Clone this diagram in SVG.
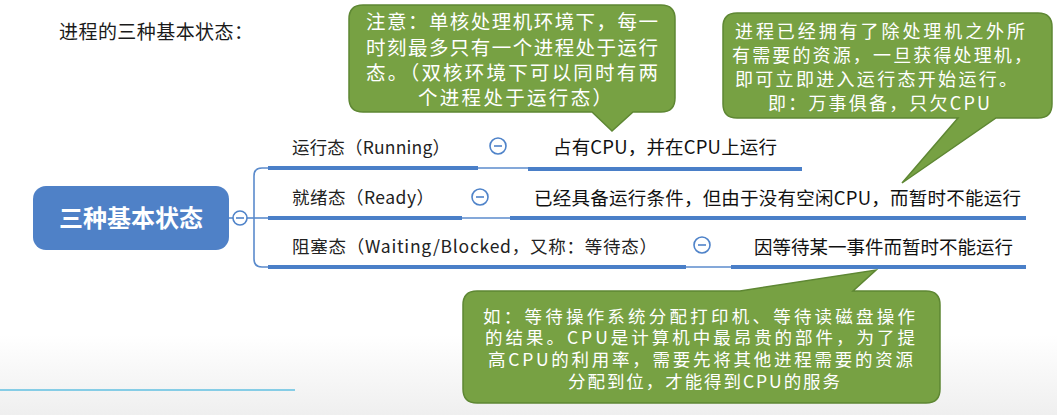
<svg xmlns="http://www.w3.org/2000/svg" width="1057" height="415" viewBox="0 0 1057 415">
<defs>
<linearGradient id="bg" x1="0" y1="0" x2="0" y2="1">
<stop offset="0" stop-color="#ffffff"/>
<stop offset="1" stop-color="#efefef"/>
</linearGradient>
<style>
.t{font-family:'Noto Sans CJK SC','Noto Sans',sans-serif;}
.title{font-family:'Liberation Serif','Noto Sans CJK SC',serif;font-size:19px;fill:#1a1a1a;}
.lab{font-size:17.5px;fill:#222;}
.det{font-size:18.5px;fill:#111;}
.call{fill:#77a143;stroke:#5e8733;stroke-width:1.5;}
.ct{font-size:19.5px;fill:#ffffff;}
.ct2{font-size:18px;fill:#ffffff;}
.ct3{font-size:17.5px;fill:#ffffff;}
.thick{stroke:#4a7fc8;stroke-width:4;fill:none;}
.thin{stroke:#5b8bcc;stroke-width:1.6;fill:none;}
.tog{fill:#fff;stroke:#4f83c9;stroke-width:1.6;}
.togm{stroke:#4f83c9;stroke-width:1.6;}
</style>
</defs>
<rect x="0" y="0" width="1057" height="415" fill="#ffffff"/>
<rect x="0" y="335" width="1057" height="80" fill="url(#bg)"/>
<line x1="0" y1="390" x2="295" y2="390" stroke="#86cde6" stroke-width="2"/>
<text class="t title" x="59" y="39" textLength="194">进程的三种基本状态：</text>

<g id="connectors">
<path class="thin" d="M229,218 H233"/>
<path class="thin" d="M247,218 H268"/>
<path class="thin" d="M268,168 H262 Q254,168 254,176 V259 Q254,267 262,267 H268"/>
<path class="thick" d="M268,168 H478"/>
<path class="thick" d="M268,218 H462"/>
<path class="thick" d="M268,267 H686"/>
<path class="thin" d="M478,168 H528"/>
<path class="thin" d="M462,218 H510"/>
<path class="thin" d="M686,267 H731"/>
<path class="thick" d="M528,169 H802"/>
<path class="thick" d="M510,218 H1026"/>
<path class="thick" d="M731,267 H1026"/>
</g>

<g id="root">
<rect x="33" y="186" width="196" height="64" rx="13" fill="#4f81c7"/>
<text class="t" x="131" y="227" text-anchor="middle" font-size="24" font-weight="bold" fill="#ffffff">三种基本状态</text>
<circle class="tog" cx="240" cy="218" r="7"/>
<line class="togm" x1="236" y1="218" x2="244" y2="218"/>
</g>

<g id="running">
<text class="t lab" x="292" y="154" textLength="158">运行态（Running）</text>
<circle class="tog" cx="498" cy="146" r="8"/>
<line class="togm" x1="494" y1="146" x2="502" y2="146"/>
</g>
<g id="running-detail">
<text class="t det" x="553" y="154" textLength="224">占有CPU，并在CPU上运行</text>
</g>

<g id="ready">
<text class="t lab" x="292" y="204" textLength="142">就绪态（Ready）</text>
<circle class="tog" cx="480" cy="197" r="8"/>
<line class="togm" x1="476" y1="197" x2="484" y2="197"/>
</g>
<g id="ready-detail">
<text class="t det" x="534" y="205" textLength="487">已经具备运行条件，但由于没有空闲CPU，而暂时不能运行</text>
</g>

<g id="blocked">
<text class="t lab" x="292" y="253" textLength="365">阻塞态（Waiting/Blocked，又称：等待态）</text>
<circle class="tog" cx="702" cy="245" r="8"/>
<line class="togm" x1="698" y1="245" x2="706" y2="245"/>
</g>
<g id="blocked-detail">
<text class="t det" x="754" y="254" textLength="259">因等待某一事件而暂时不能运行</text>
</g>

<g id="note-running">
<path class="call" d="M363,5 H661 Q675,5 675,19 V98 Q675,112 661,112 H633 L612,131 L592,112 H363 Q349,112 349,98 V19 Q349,5 363,5 Z"/>
<text class="t ct" x="366" y="29" textLength="292">注意：单核处理机环境下，每一</text>
<text class="t ct" x="366" y="55" textLength="292">时刻最多只有一个进程处于运行</text>
<text class="t ct" x="366" y="80" textLength="292">态。（双核环境下可以同时有两</text>
<text class="t ct" x="418" y="105" textLength="194">个进程处于运行态）</text>
</g>

<g id="note-ready">
<path class="call" d="M737,13 H1038 Q1052,13 1052,27 V104 Q1052,118 1038,118 H996 L902,183 L958,118 H737 Q723,118 723,104 V27 Q723,13 737,13 Z"/>
<text class="t ct2" x="735" y="38" textLength="290">进程已经拥有了除处理机之外所</text>
<text class="t ct2" x="732" y="62" textLength="300">有需要的资源，一旦获得处理机，</text>
<text class="t ct2" x="735" y="86" textLength="282">即可立即进入运行态开始运行。</text>
<text class="t ct2" x="768" y="110" textLength="222">即：万事俱备，只欠CPU</text>
</g>

<g id="note-blocked">
<path class="call" d="M477,291 H740 L876,270 L853,291 H926 Q940,291 940,305 V389 Q940,403 926,403 H477 Q463,403 463,389 V305 Q463,291 477,291 Z"/>
<text class="t ct3" x="483" y="323" textLength="432">如：等待操作系统分配打印机、等待读磁盘操作</text>
<text class="t ct3" x="485" y="344" textLength="430">的结果。CPU是计算机中最昂贵的部件，为了提</text>
<text class="t ct3" x="488" y="366" textLength="425">高CPU的利用率，需要先将其他进程需要的资源</text>
<text class="t ct3" x="568" y="388" textLength="272">分配到位，才能得到CPU的服务</text>
</g>
</svg>
